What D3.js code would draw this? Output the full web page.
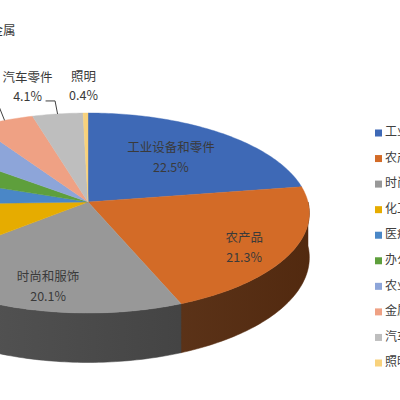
<!DOCTYPE html>
<html><head><meta charset="utf-8">
<script src="https://cdn.jsdelivr.net/npm/d3@7"></script>
<style>html,body{margin:0;padding:0;background:#fff;}svg{display:block;}</style>
</head><body>
<svg id="chart" width="400" height="400"></svg>
<script>
// ---- data ----
const categories = ["工业设备和零件","农产品","时尚和服饰","化工产品","医疗器械","办公用品","农业机械","金属","汽车零件","照明"];
const values = [22.5, 21.3, 20.1, 10.6, 5.9, 5.1, 5.3, 4.7, 4.1, 0.4];
const percentLabels = ["22.5%","21.3%","20.1%","10.6%","5.9%","5.1%","5.3%","4.7%","4.1%","0.4%"];
const colors = ["#3E69B6","#D36B27","#989898","#E6AC00","#4A87C7","#5E9F3C","#8DA5D9","#EFA184","#BEBEBE","#F8D27C"];

// ---- layout ----
const X0 = 88, Y0 = 202, RX = 220, RY = 98.8, K = 0.11, DEPTH = 44;
const FONT = "'Noto Sans CJK SC','Noto Sans',sans-serif";
// inside label placement: [radius factor, extra dy]; outside: offsets from rim
const insideLabel = {0:[0.61,0], 1:[0.78,7], 2:[0.70,13]};
const outsideLabel = {7:[-12,-90], 8:[-30,-26], 9:[-2,-26]};

const svg = d3.select("#chart");

function proj(theta, t = 1, drop = 0) {
  const u = Math.sin(theta) * t, v = -Math.cos(theta) * t;
  const w = 1 / (1 - K * v);
  return [X0 + RX * u * w, Y0 + RY * v * w + drop * w];
}
function arcPts(a0, a1, drop) {
  const n = Math.max(2, Math.ceil((a1 - a0) / (Math.PI / 180)));
  return d3.range(n + 1).map(i => proj(a0 + (a1 - a0) * i / n, 1, drop));
}

const pie = d3.pie().sort(null).value(d => d)(values);
const line = d3.line();

// sides (front half)
const sideG = svg.append("g");
pie.forEach((d, i) => {
  const a0 = Math.max(d.startAngle, Math.PI / 2), a1 = Math.min(d.endAngle, 3 * Math.PI / 2);
  if (a1 <= a0) return;
  const top = arcPts(a0, a1, 0), bot = arcPts(a0, a1, DEPTH).reverse();
  sideG.append("path")
    .attr("d", line(top.concat(bot)) + "Z")
    .attr("fill", d3.color(colors[i]).darker(2.3))
    .attr("stroke", d3.color(colors[i]).darker(2.3)).attr("stroke-width", 0.5);
});
// side shading
const defs = svg.append("defs");
const grad = defs.append("linearGradient").attr("id", "shade")
  .attr("gradientUnits", "userSpaceOnUse").attr("x1", -130).attr("x2", 310).attr("y1", 0).attr("y2", 0);
grad.append("stop").attr("offset", 0).attr("stop-color", "#fff").attr("stop-opacity", 0.12);
grad.append("stop").attr("offset", 1).attr("stop-color", "#000").attr("stop-opacity", 0.12);
{
  const top = arcPts(Math.PI / 2, 3 * Math.PI / 2, 0), bot = arcPts(Math.PI / 2, 3 * Math.PI / 2, DEPTH).reverse();
  sideG.append("path").attr("d", line(top.concat(bot)) + "Z").attr("fill", "url(#shade)");
}

// top faces
const topG = svg.append("g");
pie.forEach((d, i) => {
  const pts = [[X0, Y0]].concat(arcPts(d.startAngle, d.endAngle, 0));
  topG.append("path").attr("d", line(pts) + "Z")
    .attr("fill", colors[i]).attr("stroke", colors[i]).attr("stroke-width", 0.4);
});

// labels
const labG = svg.append("g").attr("font-family", FONT).attr("font-size", 12.5).attr("fill", "#3a3a3a");
pie.forEach((d, i) => {
  const mid = (d.startAngle + d.endAngle) / 2;
  if (insideLabel[i]) {
    const [t, dy] = insideLabel[i];
    const [x, y] = proj(mid, t, 0);
    labG.append("text").attr("x", x).attr("y", y + dy - 10).attr("text-anchor", "middle").attr("dominant-baseline", "middle").text(categories[i]);
    labG.append("text").attr("x", x).attr("y", y + dy + 10).attr("text-anchor", "middle").attr("dominant-baseline", "middle").text(percentLabels[i]);
  } else if (outsideLabel[i]) {
    const [ox, oy] = outsideLabel[i];
    const [rx, ry] = proj(mid, 1, 0);
    const cx = rx + ox, cy = ry + oy;
    if (i === 7) {
      svg.append("line").attr("x1", rx).attr("y1", ry).attr("x2", rx - 24).attr("y2", ry - 60)
        .attr("stroke", "#404040").attr("stroke-width", 1);
      labG.append("text").attr("x", cx + 23).attr("y", cy + 1).attr("text-anchor", "end").attr("dominant-baseline", "middle").text(categories[i]);
    } else {
      if (i === 8) {
        svg.append("path").attr("d", line([[rx, ry], [rx - 2.5, cy + 13], [cx + 18, cy + 13]]))
          .attr("fill", "none").attr("stroke", "#404040").attr("stroke-width", 1);
      }
      labG.append("text").attr("x", cx).attr("y", cy - 9).attr("text-anchor", "middle").attr("dominant-baseline", "middle").text(categories[i]);
      labG.append("text").attr("x", cx).attr("y", cy + 10).attr("text-anchor", "middle").attr("dominant-baseline", "middle").text(percentLabels[i]);
    }
  }
});

// legend
const lg = svg.append("g").attr("font-family", FONT).attr("font-size", 12).attr("fill", "#404040");
const ly = d3.scalePoint().domain(categories).range([133, 363]);
categories.forEach((c, i) => {
  lg.append("rect").attr("x", 375).attr("y", ly(c) - 3.5).attr("width", 7).attr("height", 7).attr("fill", colors[i]);
  lg.append("text").attr("x", 385).attr("y", ly(c)).attr("dominant-baseline", "middle").text(c);
});
</script>
</body></html>
